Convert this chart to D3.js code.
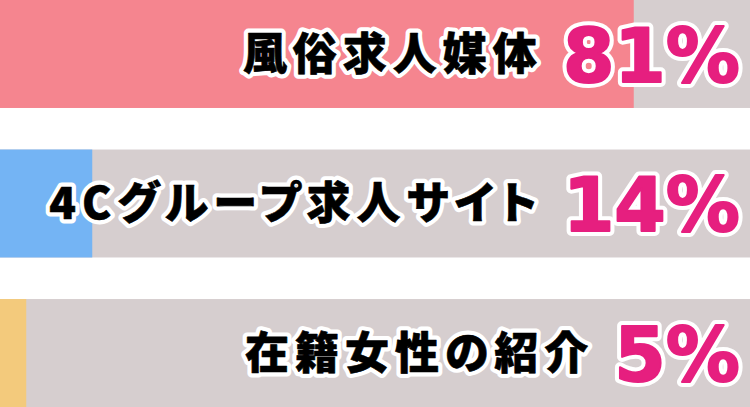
<!DOCTYPE html>
<html>
<head>
<meta charset="utf-8">
<script src="https://cdn.jsdelivr.net/npm/d3@7"></script>
<style>
  html, body { margin: 0; padding: 0; background: #fff; }
  svg { display: block; }
  .label { font-feature-settings: "palt"; }
</style>
</head>
<body>
<div id="graph"></div>
<script>
// chart data
const categories = ['風俗求人媒体', '4Cグループ求人サイト', '在籍女性の紹介'];
const percentValues = [81, 14, 5];          // printed labels
const barFill = [84.5, 12.3, 3.5];          // filled share of each track
const barColors = ['#f5858f', '#74b4f4', '#f3ca7c'];

const svgWidth = 750;
const svgHeight = 407;

const svg = d3.select('#graph')
  .append('svg')
  .attr('width', svgWidth)
  .attr('height', svgHeight);

const y = d3.scaleBand()
  .domain(categories)
  .range([0, svgHeight])
  .paddingInner(0.278)
  .paddingOuter(0);

const x = d3.scaleLinear()
  .domain([0, 100])
  .range([0, svgWidth]);

const rows = svg.selectAll('.row')
  .data(categories)
  .enter()
  .append('g')
  .attr('class', 'row')
  .attr('transform', d => `translate(0, ${y(d)})`);

// gray track
rows.append('rect')
  .attr('x', x(0))
  .attr('width', x(100) - x(0))
  .attr('height', y.bandwidth())
  .attr('fill', '#d6cecf');

// coloured fill
rows.append('rect')
  .attr('x', x(0))
  .attr('width', (d, i) => x(barFill[i]) - x(0))
  .attr('height', y.bandwidth())
  .attr('fill', (d, i) => barColors[i]);

const mid = y.bandwidth() / 2;

// outlined text: white halo underneath, slightly emboldened fill on top
function outlined(sel, cls, color, halo, bold, setup) {
  const under = sel.append('text').attr('class', cls)
    .attr('fill', '#fff').attr('stroke', '#fff')
    .attr('stroke-width', halo).attr('stroke-linejoin', 'round');
  const over = sel.append('text').attr('class', cls)
    .attr('fill', color).attr('stroke', color)
    .attr('stroke-width', bold).attr('stroke-linejoin', 'round');
  setup(under);
  setup(over);
  return [under, over];
}

// percentage
const [pctHalo, pct] = outlined(rows, 'pct', '#e61f7f', 10, 2, s => s
  .attr('x', 740)
  .attr('y', mid + 28)
  .attr('text-anchor', 'end')
  .attr('font-family', '"DejaVu Sans", sans-serif')
  .attr('font-weight', 'bold')
  .attr('font-size', 74)
  .text((d, i) => percentValues[i] + '%'));

// category label, placed left of the percentage
const labelSpacing = 6;
const [lblHalo, lbl] = outlined(rows, 'label', '#000', 9, 0.6, s => s
  .attr('y', mid + 16)
  .attr('font-family', '"Noto Sans CJK JP", sans-serif')
  .attr('font-weight', 900)
  .attr('font-size', 44)
  .attr('letter-spacing', labelSpacing)
  .text(d => d));

lbl.each(function(d, i) {
  const numBox = pct.nodes()[i].getBBox();
  const w = this.getComputedTextLength() - labelSpacing;
  const lx = numBox.x - 26 - w;
  d3.select(this).attr('x', lx);
  d3.select(lblHalo.nodes()[i]).attr('x', lx);
});
</script>
</body>
</html>
